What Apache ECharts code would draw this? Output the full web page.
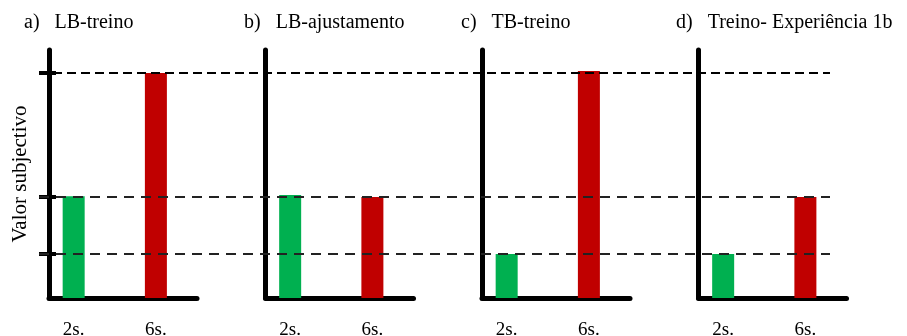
<!DOCTYPE html>
<html>
<head>
<meta charset="utf-8">
<script src="https://cdn.jsdelivr.net/npm/echarts@6/dist/echarts.min.js"></script>
<style>
  html, body { margin: 0; padding: 0; background: #fff; }
  #chart { width: 907px; height: 336px; }
</style>
</head>
<body>
<div id="chart"></div>
<script>
// Panel titles
const panelTitles = ['a)   LB-treino', 'b)   LB-ajustamento', 'c)   TB-treino', 'd)   Treino- Experiência 1b'];
// Category slots along each x axis; only two carry a label
const slots = ['', '2s.', '', '', '', '', '6s.', '', ''];
// Subjective value for the 2 s. and 6 s. intervals, per panel
const shortValues = [4.1, 4.15, 1.77, 1.77];
const longValues = [9.07, 4.07, 9.15, 4.07];
// Reference levels (dashed lines and ticks)
const levels = [1.77, 4.07, 9.07];
const yMax = 10;

const colShort = '#00b050';
const colLong = '#c00000';
const serif = '"Liberation Serif", "DejaVu Serif", serif';

const panelLeft = [49, 265.5, 482, 698.5];
const panelWidth = 148;
const gridTop = 50;
const gridBottom = 38;

const grids = [], xAxes = [], yAxes = [], series = [], titles = [];
const titleLeft = [24, 244, 461, 676];

panelLeft.forEach((left, i) => {
  grids.push({ left: left, top: gridTop, width: panelWidth, bottom: gridBottom, outerBoundsMode: 'none', containLabel: false });
  xAxes.push({
    type: 'category', gridIndex: i, data: slots, boundaryGap: true,
    axisLine: { lineStyle: { color: '#000', width: 5 } },
    axisTick: { show: false },
    axisLabel: { interval: 0, color: '#000', fontFamily: serif, fontSize: 19, margin: 23 },
    splitLine: { show: false }
  });
  yAxes.push({
    type: 'value', gridIndex: i, min: 0, max: yMax, position: 'left',
    axisLine: { show: true, lineStyle: { color: '#000', width: 5 } },
    axisTick: i === 0
      ? { show: true, customValues: levels, length: 10, lineStyle: { color: '#000', width: 4 } }
      : { show: false },
    axisLabel: { show: false },
    splitLine: { show: false },
    name: i === 0 ? 'Valor subjectivo' : '',
    nameLocation: 'middle', nameGap: 18,
    nameTextStyle: { fontFamily: serif, fontSize: 21, color: '#000' }
  });
  const short = new Array(slots.length).fill('-');
  const long = new Array(slots.length).fill('-');
  short[1] = shortValues[i];
  long[6] = longValues[i];
  series.push({
    type: 'bar', xAxisIndex: i, yAxisIndex: i, barWidth: 22, barGap: '-100%',
    data: short, itemStyle: { color: colShort }, z: 2
  });
  series.push({
    type: 'bar', xAxisIndex: i, yAxisIndex: i, barWidth: 22, barGap: '-100%',
    data: long, itemStyle: { color: colLong }, z: 2
  });
  titles.push({
    text: panelTitles[i], left: titleLeft[i], top: 13, padding: 0,
    textStyle: { fontFamily: serif, fontSize: 20, fontWeight: 'normal', color: '#000' }
  });
});

// Inner half of the ticks on the first panel's axis
yAxes.push({
  type: 'value', gridIndex: 0, min: 0, max: yMax, position: 'left', offset: 0,
  axisLine: { show: false },
  axisTick: { show: true, inside: true, customValues: levels, length: 7, lineStyle: { color: '#000', width: 4 } },
  axisLabel: { show: false }, splitLine: { show: false }
});

// Overlay grid carrying the dashed reference lines across all panels
const ov = grids.length;
grids.push({ left: 39, right: 77, top: gridTop, bottom: gridBottom, outerBoundsMode: 'none', containLabel: false });
xAxes.push({ type: 'value', gridIndex: ov, min: 0, max: 1, show: false });
yAxes.push({ type: 'value', gridIndex: ov, min: 0, max: yMax, show: false });
const ovY = yAxes.length - 1;
series.push({
  type: 'line', xAxisIndex: xAxes.length - 1, yAxisIndex: ovY, data: [], z: 5,
  silent: true,
  markLine: {
    symbol: 'none', silent: true, animation: false,
    label: { show: false },
    data: levels.map((v, k) => ({
      yAxis: v,
      lineStyle: k === levels.length - 1
        ? { color: '#000', width: 2, type: [9, 5] }
        : { color: '#222', width: 1.8, type: [10, 7] }
    }))
  }
});

const chart = echarts.init(document.getElementById('chart'), null, { renderer: 'canvas' });
chart.setOption({
  animation: false,
  backgroundColor: '#fff',
  title: titles,
  grid: grids,
  xAxis: xAxes,
  yAxis: yAxes,
  series: series
});
</script>
</body>
</html>
